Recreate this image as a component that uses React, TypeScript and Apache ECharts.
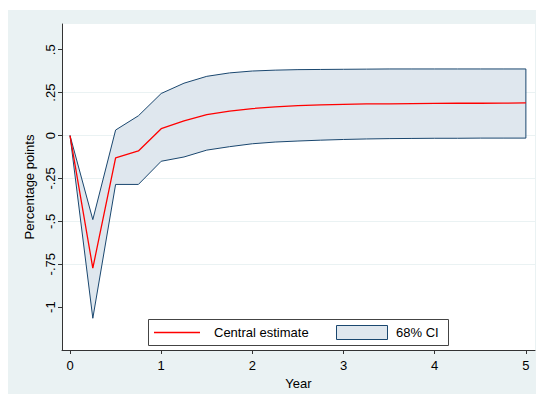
import React, { useEffect, useRef } from "react";
import * as echarts from "echarts";

const years = [0, 0.25, 0.5, 0.75, 1, 1.25, 1.5, 1.75, 2, 2.25, 2.5, 2.75, 3, 3.25, 3.5, 3.75, 4, 4.25, 4.5, 4.75, 5];
const central = [0, -0.773, -0.13, -0.09, 0.04, 0.085, 0.122, 0.142, 0.157, 0.167, 0.174, 0.179, 0.182, 0.184, 0.185, 0.186, 0.187, 0.188, 0.188, 0.189, 0.19];
const upper = [0, -0.49, 0.032, 0.115, 0.245, 0.305, 0.345, 0.365, 0.376, 0.381, 0.384, 0.385, 0.386, 0.387, 0.388, 0.388, 0.388, 0.388, 0.388, 0.388, 0.388];
const lower = [0, -1.065, -0.285, -0.285, -0.15, -0.125, -0.085, -0.065, -0.048, -0.038, -0.032, -0.027, -0.023, -0.02, -0.018, -0.017, -0.016, -0.016, -0.015, -0.015, -0.015];
const xTicks = [0, 1, 2, 3, 4, 5];
const yTicks = [-1, -0.75, -0.5, -0.25, 0, 0.25, 0.5];
const yTickLabels = ["-1", "-.75", "-.5", "-.25", "0", ".25", ".5"];

const NAVY = "#1a476f";
const FILL = "#dfe7ee";
const BG = "#eaf2f3";
const AXIS = "#333";
const FONT = "Liberation Sans";

export default function App() {
  const ref = useRef<HTMLDivElement>(null);
  useEffect(() => {
    if (!ref.current) return;
    const chart = echarts.init(ref.current, null, { renderer: "svg" });
    const pts = (arr: number[]) => years.map((x, i) => [x, arr[i]]);
    const bandData = years.map((x, i) => [x, lower[i], upper[i]]);
    chart.setOption({
      animation: false,
      backgroundColor: BG,
      grid: { left: 54, right: 9, top: 14, bottom: 46, show: true, backgroundColor: "#ffffff", borderWidth: 0 },
      xAxis: {
        type: "value",
        min: -0.088,
        max: 5.1,
        name: "Year",
        nameLocation: "middle",
        nameGap: 22,
        nameTextStyle: { fontFamily: FONT, fontSize: 13, color: "#000" },
        axisLine: { show: true, onZero: false, lineStyle: { color: AXIS, width: 1 } },
        axisTick: { show: true, length: 4, customValues: xTicks, lineStyle: { color: AXIS } },
        axisLabel: { customValues: xTicks, margin: 9, fontFamily: FONT, fontSize: 13, color: "#000" },
        splitLine: { show: false },
      },
      yAxis: {
        type: "value",
        min: -1.25,
        max: 0.65,
        name: "Percentage points",
        nameLocation: "middle",
        nameGap: 26,
        nameTextStyle: { fontFamily: FONT, fontSize: 13, color: "#000" },
        axisLine: { show: true, onZero: false, lineStyle: { color: AXIS, width: 1 } },
        axisTick: { show: true, length: 4, customValues: yTicks, lineStyle: { color: AXIS } },
        axisLabel: {
          customValues: yTicks,
          rotate: 90,
          margin: 5,
          fontFamily: FONT,
          fontSize: 13,
          color: "#000",
          formatter: (v: number) => {
            const i = yTicks.findIndex((t) => Math.abs(t - v) < 1e-6);
            return i >= 0 ? yTickLabels[i] : "";
          },
        },
        splitLine: { show: true, showMinLine: false, showMaxLine: false, lineStyle: { color: BG, width: 1.2 } },
      },
      series: [
        {
          type: "custom",
          name: "68% CI",
          data: bandData,
          silent: true,
          encode: { x: 0, y: [1, 2] },
          renderItem: (params: any, api: any) => {
            if (params.dataIndex !== 0) return null;
            const top = bandData.map((d) => api.coord([d[0], d[2]]));
            const bot = bandData.map((d) => api.coord([d[0], d[1]])).reverse();
            return {
              type: "polygon",
              shape: { points: top.concat(bot) },
              style: { fill: FILL, stroke: NAVY, lineWidth: 1, lineJoin: "miter" },
            };
          },
          z: 1,
        },
        {
          type: "line",
          name: "Central estimate",
          data: pts(central),
          symbol: "none",
          lineStyle: { color: "#ff0000", width: 1.3 },
          z: 3,
        },
      ],
      graphic: [
        {
          type: "rect",
          shape: { x: 140.5, y: 309.5, width: 300, height: 26 },
          style: { fill: "#ffffff", stroke: "#444", lineWidth: 1 },
          z: 100,
        },
        {
          type: "line",
          shape: { x1: 146, y1: 322.5, x2: 192, y2: 322.5 },
          style: { stroke: "#ff0000", lineWidth: 1.3 },
          z: 101,
        },
        {
          type: "text",
          x: 206,
          y: 322.5,
          style: { text: "Central estimate", fontFamily: FONT, fontSize: 13, fill: "#000", verticalAlign: "middle" },
          z: 101,
        },
        {
          type: "rect",
          shape: { x: 328.5, y: 315.5, width: 51, height: 14 },
          style: { fill: FILL, stroke: NAVY, lineWidth: 1 },
          z: 101,
        },
        {
          type: "text",
          x: 388,
          y: 322.5,
          style: { text: "68% CI", fontFamily: FONT, fontSize: 13, fill: "#000", verticalAlign: "middle" },
          z: 101,
        },
      ],
    });
    return () => chart.dispose();
  }, []);
  return <div ref={ref} style={{ width: 536, height: 386, position: "relative", top: 2 }} />;
}
